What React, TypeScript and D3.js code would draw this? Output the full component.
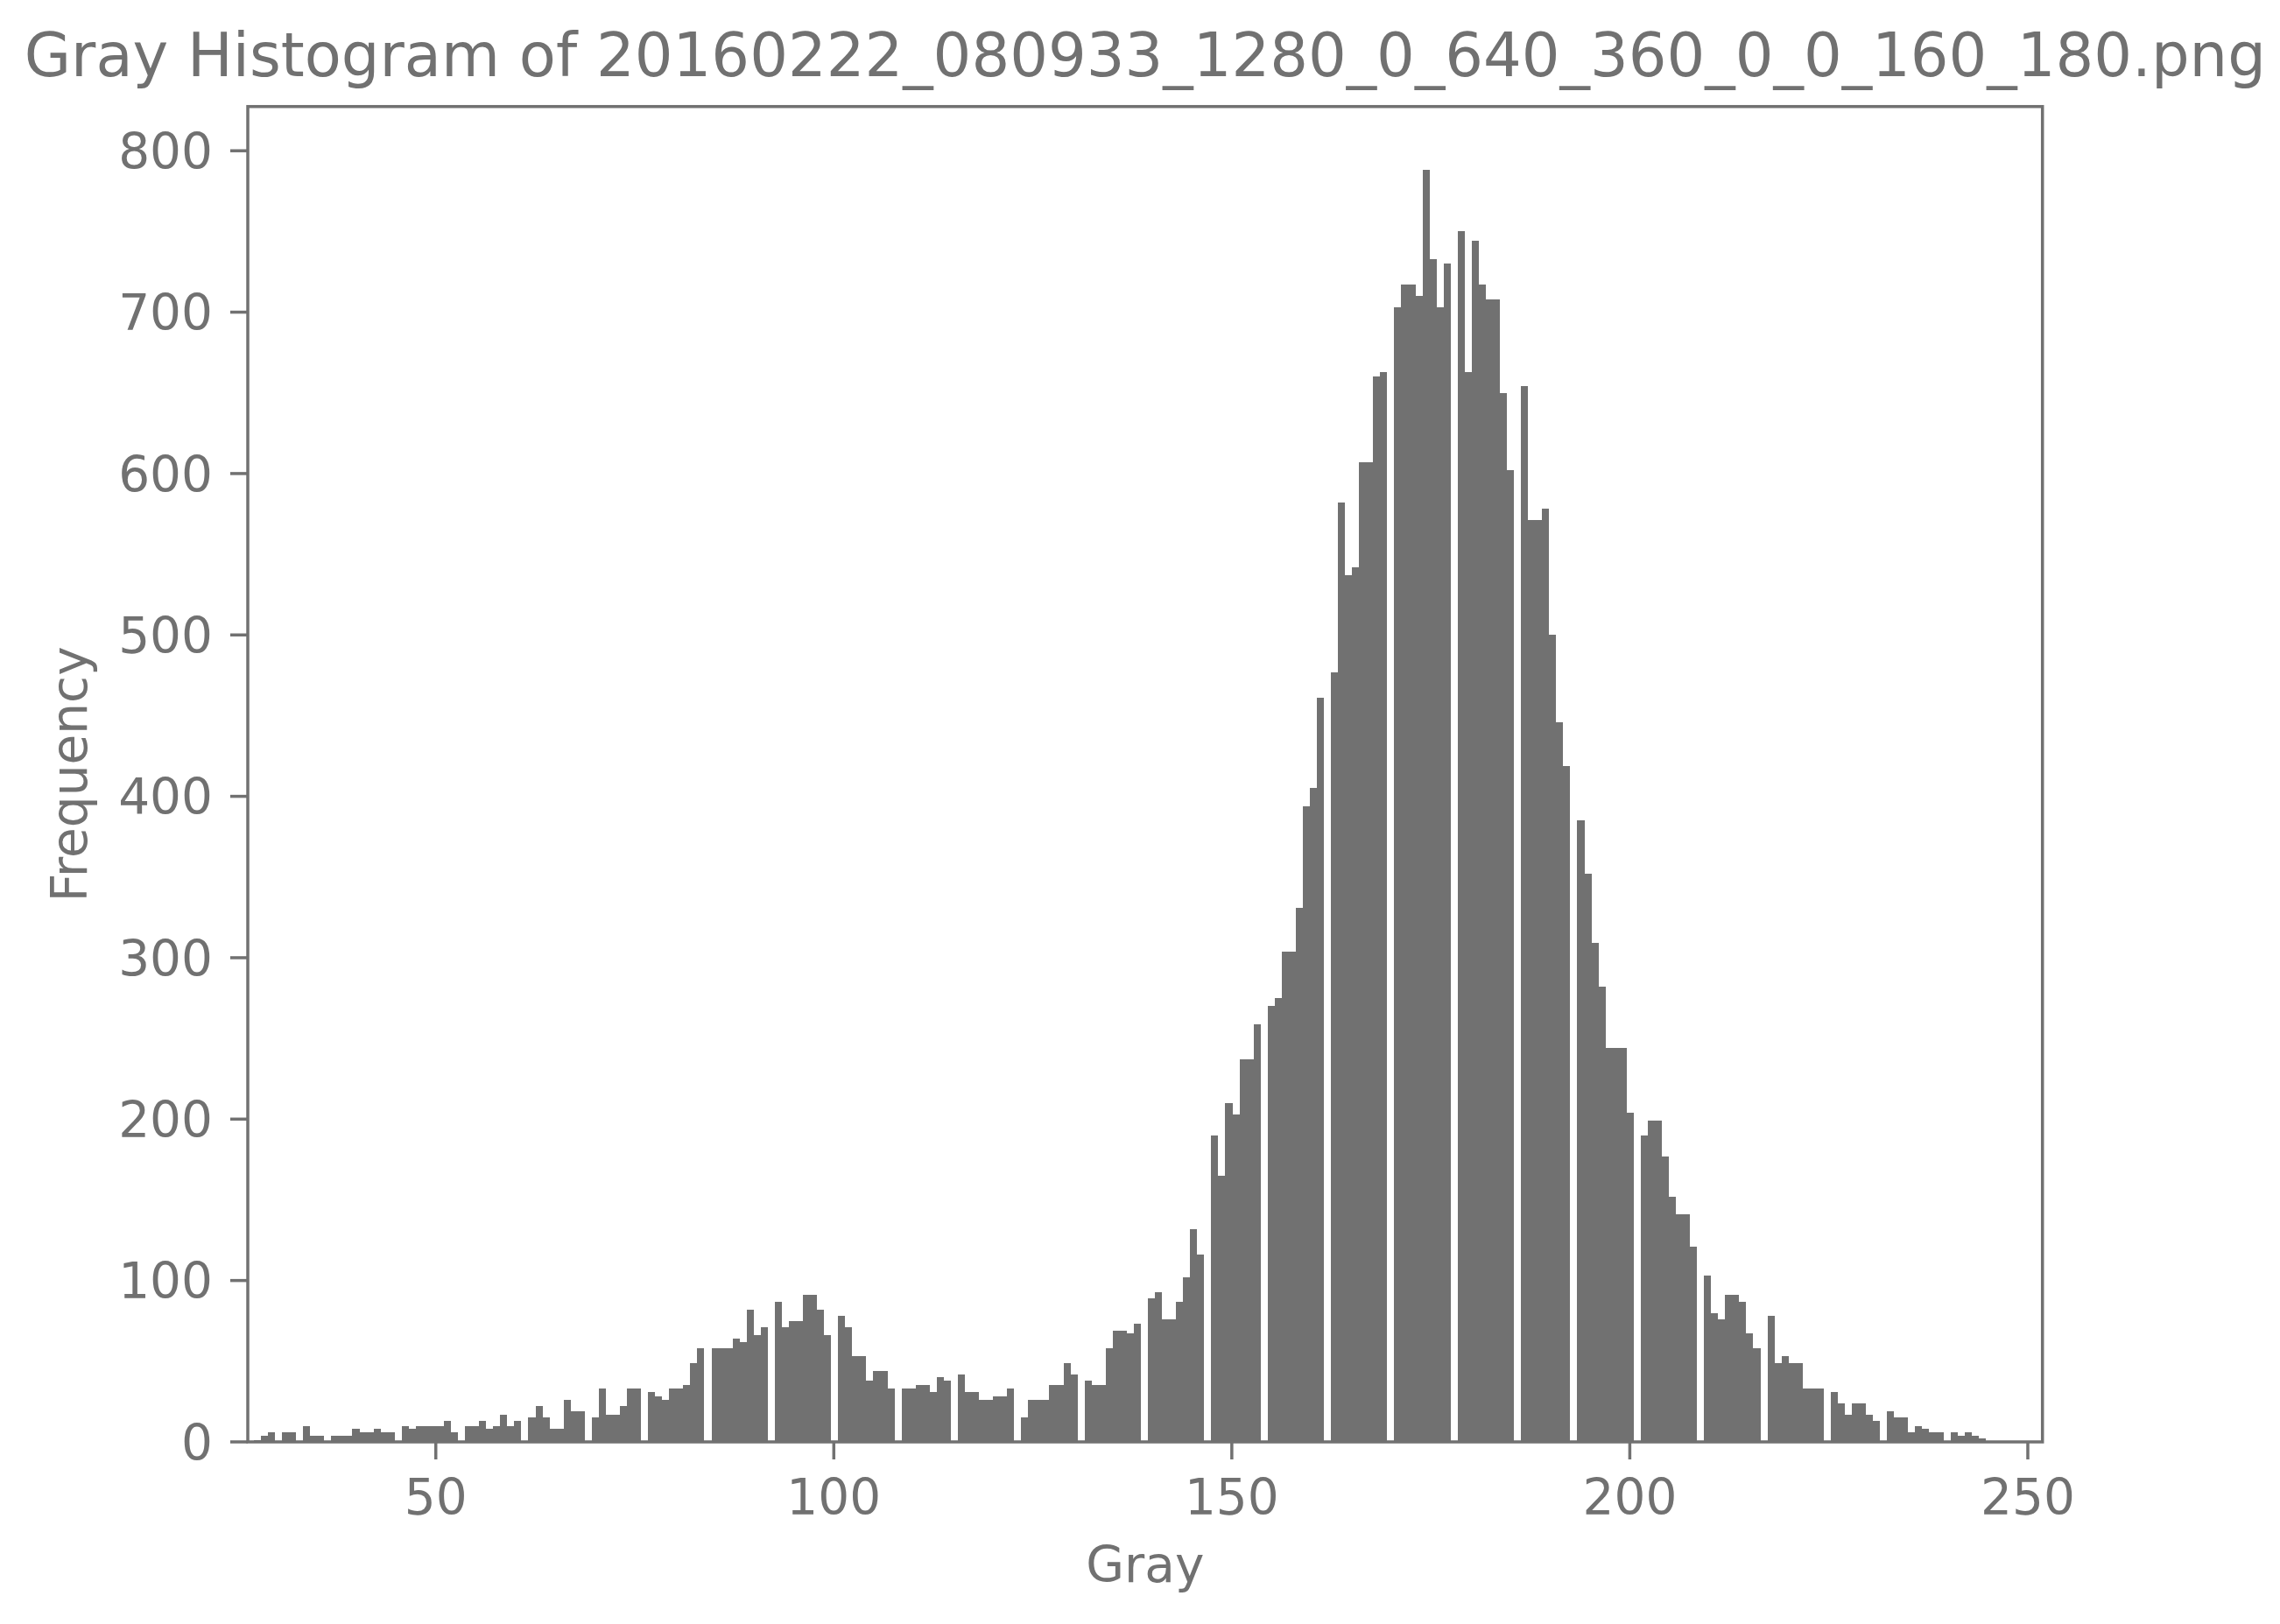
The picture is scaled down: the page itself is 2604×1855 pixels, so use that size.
import React from 'react';
import * as d3 from 'd3';

const TITLE = 'Gray Histogram of 20160222_080933_1280_0_640_360_0_0_160_180.png';
const X_LABEL = 'Gray';
const Y_LABEL = 'Frequency';

const xTicks = [50, 100, 150, 200, 250];
const yTicks = [0, 100, 200, 300, 400, 500, 600, 700, 800];

// histogram bins (256 equal bins); edges in gray units
const BIN_START = 27.14;
const BIN_WIDTH = 0.8844;
const X_DOMAIN: [number, number] = [26.38, 251.84];

// counts per bin, read left to right (empty bins are 0)
const binCounts = [
  1, 4, 6, 0, 6, 6, 0, 10, 4, 4,
  0, 4, 4, 4, 8, 6, 6, 8, 6, 6,
  0, 10, 8, 10, 10, 10, 10, 13, 6, 0,
  10, 10, 13, 8, 10, 17, 10, 13, 0, 15,
  22, 15, 8, 8, 26, 19, 19, 0, 15, 33,
  17, 17, 22, 33, 33, 0, 31, 28, 26, 33,
  33, 35, 49, 58, 0, 58, 58, 58, 64, 62,
  82, 66, 71, 0, 87, 71, 75, 75, 91, 91,
  82, 66, 0, 78, 71, 53, 53, 38, 44, 44,
  33, 0, 33, 33, 35, 35, 31, 40, 38, 0,
  42, 31, 31, 26, 26, 28, 28, 33, 0, 15,
  26, 26, 26, 35, 35, 49, 42, 0, 38, 35,
  35, 58, 69, 69, 67, 73, 0, 89, 93, 76,
  76, 87, 102, 132, 116, 0, 190, 165, 210, 203,
  237, 237, 259, 0, 270, 275, 304, 304, 331, 394,
  405, 461, 0, 477, 582, 537, 542, 607, 607, 660,
  663, 0, 703, 717, 717, 710, 788, 733, 703, 730,
  0, 750, 663, 744, 717, 708, 708, 650, 602, 0,
  654, 571, 571, 578, 500, 446, 419, 0, 385, 352,
  309, 282, 244, 244, 244, 204, 0, 190, 199, 199,
  177, 152, 141, 141, 121, 0, 103, 80, 76, 91,
  91, 87, 67, 58, 0, 78, 49, 53, 49, 49,
  33, 33, 33, 0, 31, 24, 17, 24, 24, 17,
  13, 0, 19, 15, 15, 6, 10, 8, 6, 6,
  0, 6, 4, 6, 4, 2,
];

const W = 2604;
const H = 1855;
const PLOT = { left: 283, right: 2332.7, top: 121.7, bottom: 1647 };
const COLOR = '#717171';
const FONT = 'DejaVu Sans';
const TICK_FONT = 56.5;
const TITLE_FONT = 68.8;
const TICK_LEN = 20;

export default function App() {
  const x = d3.scaleLinear().domain(X_DOMAIN).range([PLOT.left, PLOT.right]);
  const yMax = (d3.max(binCounts) ?? 0) * 1.05;
  const y = d3.scaleLinear().domain([0, yMax]).range([PLOT.bottom, PLOT.top]);

  const bins = binCounts.map((c, i) => ({
    x0: BIN_START + i * BIN_WIDTH,
    x1: BIN_START + (i + 1) * BIN_WIDTH,
    c,
  }));

  const cx = (PLOT.left + PLOT.right) / 2;
  const cy = (PLOT.top + PLOT.bottom) / 2;

  return (
    <svg
      width={W}
      height={H}
      style={{ position: 'absolute', left: 0, top: 0, background: '#fff' }}
      fontFamily={FONT}
    >
      <rect x={0} y={0} width={W} height={H} fill="#ffffff" />
      <defs>
        <clipPath id="plotClip">
          <rect x={PLOT.left} y={PLOT.top} width={PLOT.right - PLOT.left} height={PLOT.bottom - PLOT.top} />
        </clipPath>
      </defs>
      <g clipPath="url(#plotClip)" shapeRendering="crispEdges">
        {bins
          .filter((b) => b.c > 0)
          .map((b, i) => (
            <rect
              key={i}
              x={x(b.x0)}
              width={x(b.x1) - x(b.x0)}
              y={y(b.c)}
              height={y(0) - y(b.c)}
              fill={COLOR}
            />
          ))}
      </g>
      <rect
        x={PLOT.left}
        y={PLOT.top}
        width={PLOT.right - PLOT.left}
        height={PLOT.bottom - PLOT.top}
        fill="none"
        stroke={COLOR}
        strokeWidth={3.5}
      />
      {xTicks.map((t) => (
        <g key={'x' + t}>
          <line x1={x(t)} x2={x(t)} y1={PLOT.bottom} y2={PLOT.bottom + TICK_LEN} stroke={COLOR} strokeWidth={3.5} />
          <text x={x(t)} y={1730} textAnchor="middle" fontSize={TICK_FONT} fill={COLOR}>
            {t}
          </text>
        </g>
      ))}
      {yTicks.map((t) => (
        <g key={'y' + t}>
          <line x1={PLOT.left - TICK_LEN} x2={PLOT.left} y1={y(t)} y2={y(t)} stroke={COLOR} strokeWidth={3.5} />
          <text x={243} y={y(t) + 20.6} textAnchor="end" fontSize={TICK_FONT} fill={COLOR}>
            {t}
          </text>
        </g>
      ))}
      <text x={cx} y={1807} textAnchor="middle" fontSize={TICK_FONT} fill={COLOR}>
        {X_LABEL}
      </text>
      <text
        transform={`translate(99,${cy}) rotate(-90)`}
        textAnchor="middle"
        fontSize={TICK_FONT}
        fill={COLOR}
      >
        {Y_LABEL}
      </text>
      <text x={cx} y={87} textAnchor="middle" fontSize={TITLE_FONT} fill={COLOR}>
        {TITLE}
      </text>
    </svg>
  );
}
